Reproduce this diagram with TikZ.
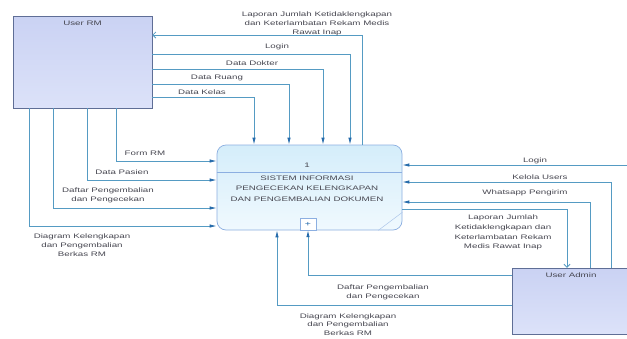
\documentclass[tikz,border=0pt]{standalone}
\usepackage{fontspec}
\newfontfamily\dfdfont{Liberation Sans}[FakeStretch=1.5]
\usetikzlibrary{arrows.meta,calc}
\definecolor{flowline}{RGB}{85,155,195}
\definecolor{flowhead}{RGB}{35,105,170}
\definecolor{enttop}{RGB}{202,210,243}
\definecolor{entbot}{RGB}{220,226,249}
\definecolor{entline}{RGB}{95,110,150}
\definecolor{procline}{RGB}{140,175,225}
\definecolor{proctop}{RGB}{212,237,250}
\definecolor{procbot}{RGB}{240,249,254}
\definecolor{txt}{RGB}{70,70,80}

\begin{document}
\begin{tikzpicture}[x=1pt,y=-1pt,>=Latex,
  lbl/.style={font=\dfdfont\fontsize{6.5}{9.5}\selectfont,text=txt,align=center,inner sep=0pt},
  entity/.style={draw=entline,line width=0.5pt,top color=enttop,bottom color=entbot},
  proc/.style={draw=procline,line width=0.7pt,rounded corners=9pt,top color=proctop,bottom color=procbot},
  flow/.style={draw=flowline,line width=0.8pt,-{Latex[length=7pt,width=3.4pt,color=flowhead]}},
  back/.style={draw=flowline,line width=0.8pt,-{Straight Barb[length=3pt,width=6pt]}}]
  \useasboundingbox (0,0) rectangle (627,338);
  \clip (0,0) rectangle (627,338);
  \fill[white] (0,0) rectangle (627,338);

  % entities and process
  \node[entity,minimum width=139pt,minimum height=92pt,
    label={[lbl,anchor=north,yshift=-5pt]north:User RM}] (userrm) at (82.5,62) {};
  \node[entity,minimum width=118pt,minimum height=66pt,
    label={[lbl,anchor=north,yshift=-5pt]north:User Admin}] (admin) at (571,301) {};
  \node[proc,minimum width=185pt,minimum height=85pt] (proc) at (309.5,187.5) {};
  \draw[procline,line width=0.6pt] (proc.west |- 0,172) -- (proc.east |- 0,172);
  \draw[procline!70,line width=0.5pt] ($(proc.south east)+(-24,0)$) -- ($(proc.south east)+(0,-18)$);
  \node[lbl] (pnum) at (307,165) {1};
  \node[lbl,font=\dfdfont\fontsize{6.5}{10.5}\selectfont] (pname) at (307,188.5)
    {SISTEM INFORMASI\\PENGECEKAN KELENGKAPAN\\DAN PENGEMBALIAN DOKUMEN};
  \node[draw=procline,fill=white,minimum width=16pt,minimum height=12pt,inner sep=0pt,
    text=flowhead,font=\dfdfont\fontsize{7}{7}\selectfont] (plus) at (308,224) {+};

  % top: User RM -- process
  \draw[back] (proc.north -| 362,0) |- (userrm.east |- 0,35);
  \draw[flow] (userrm.east |- 0,54) -| (proc.north -| 350,0);
  \draw[flow] (userrm.east |- 0,69) -| (proc.north -| 323,0);
  \draw[flow] (userrm.east |- 0,84) -| (proc.north -| 289,0);
  \draw[flow] (userrm.east |- 0,97) -| (proc.north -| 254,0);
  \node[lbl,font=\dfdfont\fontsize{6.5}{9}\selectfont] (t-lap) at (317,24)
    {Laporan Jumlah Ketidaklengkapan\\dan Keterlambatan Rekam Medis\\Rawat Inap};
  \node[lbl] (t-login) at (277,47) {Login};
  \node[lbl] (t-dokter) at (252,63) {Data Dokter};
  \node[lbl] (t-ruang) at (217,78) {Data Ruang};
  \node[lbl] (t-kelas) at (202,92) {Data Kelas};

  % left: User RM -- process
  \draw[flow] (userrm.south -| 116,0) |- (proc.west |- 0,161);
  \draw[flow] (userrm.south -| 87,0) |- (proc.west |- 0,180);
  \draw[flow] (userrm.south -| 53,0) |- (proc.west |- 0,208);
  \draw[flow] (userrm.south -| 29,0) |- (proc.west |- 0,226);
  \node[lbl] (t-form) at (145,153) {Form RM};
  \node[lbl] (t-pasien) at (122,172) {Data Pasien};
  \node[lbl,font=\dfdfont\fontsize{6.5}{9}\selectfont] (t-daftar1) at (108,195.5)
    {Daftar Pengembalian\\dan Pengecekan};
  \node[lbl,font=\dfdfont\fontsize{6.5}{9}\selectfont] (t-diag1) at (82,245)
    {Diagram Kelengkapan\\dan Pengembalian\\Berkas RM};

  % right: User Admin -- process
  \draw[flow] (admin.north -| 636,0) |- (proc.east |- 0,165);
  \draw[flow] (admin.north -| 611,0) |- (proc.east |- 0,182);
  \draw[flow] (admin.north -| 590,0) |- (proc.east |- 0,202);
  \draw[back] (proc.east |- 0,209) -| (admin.north -| 567,0);
  \node[lbl] (t-login2) at (535,161) {Login};
  \node[lbl] (t-kelola) at (540,177) {Kelola Users};
  \node[lbl] (t-wa) at (525,193) {Whatsapp Pengirim};
  \node[lbl,font=\dfdfont\fontsize{6.5}{9.7}\selectfont] (t-lap2) at (503,232.5)
    {Laporan Jumlah\\Ketidaklengkapan dan\\Keterlambatan Rekam\\Medis Rawat Inap};

  % bottom: User Admin -- process
  \draw[flow] (admin.west |- 0,275) -| (plus.south);
  \draw[flow] (admin.west |- 0,305) -| (proc.south -| 277,0);
  \node[lbl,font=\dfdfont\fontsize{6.5}{9}\selectfont] (t-daftar2) at (383,292.5)
    {Daftar Pengembalian\\dan Pengecekan};
  \node[lbl,font=\dfdfont\fontsize{6.5}{8.8}\selectfont] (t-diag2) at (348,324.5)
    {Diagram Kelengkapan\\dan Pengembalian\\Berkas RM};
\end{tikzpicture}
\end{document}
